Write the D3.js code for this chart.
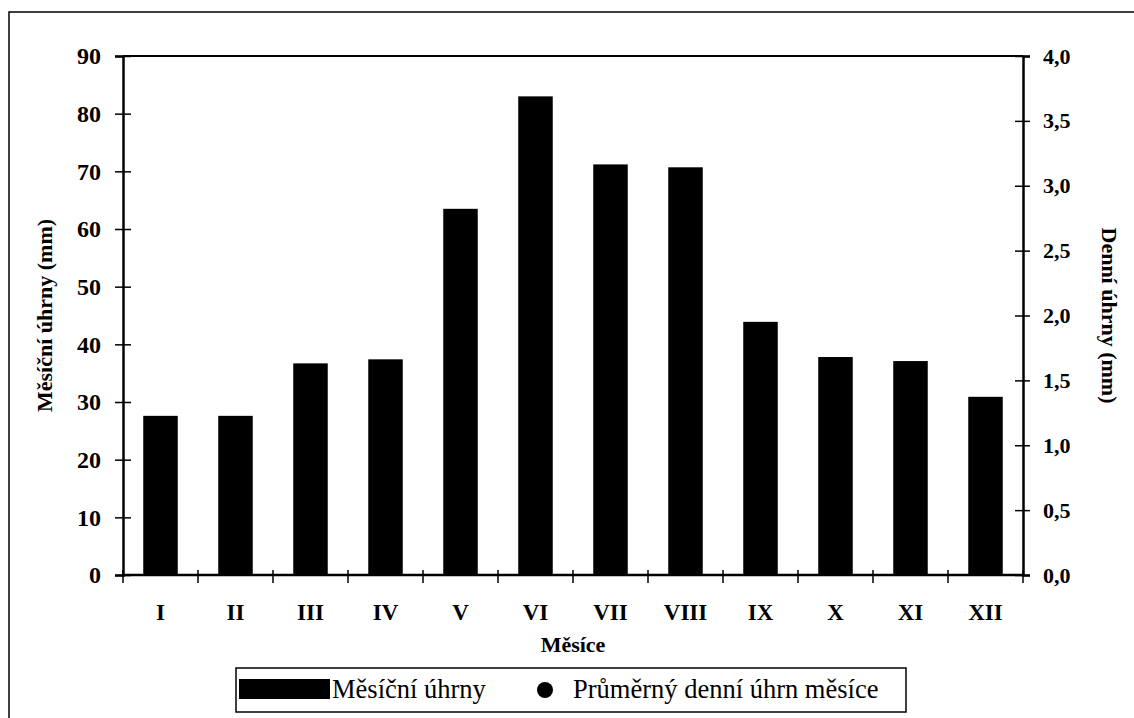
<!DOCTYPE html>
<html>
<head>
<meta charset="utf-8">
<script src="https://cdn.jsdelivr.net/npm/d3@7"></script>
<style>
  body { margin: 0; background: #fff; }
  text { font-family: "Liberation Serif", "Times New Roman", serif; }
</style>
</head>
<body>
<div id="container"></div>
<script>
/* DATA */
const months = ["I", "II", "III", "IV", "V", "VI", "VII", "VIII", "IX", "X", "XI", "XII"];
const monthlyTotals = [27.6, 27.6, 36.7, 37.4, 63.5, 83.0, 71.2, 70.7, 43.9, 37.8, 37.1, 30.9];
const leftTicks = [0, 10, 20, 30, 40, 50, 60, 70, 80, 90];
const rightTicks = [0, 0.5, 1, 1.5, 2, 2.5, 3, 3.5, 4];
const seriesNames = ["Měsíční úhrny", "Průměrný denní úhrn měsíce"];

/* CONSTANTS */
const width = 1134, height = 718;
const margin = {left: 123, right: 111, top: 56, bottom: 143};

const svg = d3.select("#container").append("svg")
  .attr("width", width).attr("height", height);

// outer frame (cut off at right and bottom like the scan)
svg.append("rect")
  .attr("x", 9).attr("y", 12).attr("width", 1200).attr("height", 800)
  .attr("fill", "none").attr("stroke", "#000").attr("stroke-width", 1.5);

/* SCALES */
const xScale = d3.scaleBand()
  .domain(months)
  .range([margin.left, width - margin.right])
  .paddingInner(0.54).paddingOuter(0.27);

const yScale = d3.scaleLinear()
  .domain([0, 90])
  .range([height - margin.bottom, margin.top]);

const y2Scale = d3.scaleLinear()
  .domain([0, 4])
  .range([height - margin.bottom, margin.top]);

const x0 = margin.left, x1 = width - margin.right;
const yb = height - margin.bottom;

// top border of plot
svg.append("line")
  .attr("x1", x0).attr("x2", x1).attr("y1", margin.top).attr("y2", margin.top)
  .attr("stroke", "#000").attr("stroke-width", 2);

// bars
svg.selectAll("rect.bar")
  .data(monthlyTotals)
  .join("rect")
  .attr("class", "bar")
  .attr("x", (d, i) => xScale(months[i]))
  .attr("width", xScale.bandwidth())
  .attr("y", d => yScale(d))
  .attr("height", d => yb - yScale(d))
  .attr("fill", "#000");

/* AXES */
const leftAxis = d3.axisLeft(yScale).tickValues(leftTicks).tickSize(8).tickPadding(14);
const gl = svg.append("g").attr("transform", `translate(${x0},0)`).call(leftAxis);
gl.select(".domain").attr("stroke-width", 2.5);
gl.selectAll(".tick line").attr("x2", -8).attr("x1", 8).attr("stroke-width", 1.5);
gl.selectAll(".tick text")
  .style("font-family", "Liberation Serif, serif")
  .style("font-weight", "bold").style("font-size", "24px");

const rightAxis = d3.axisRight(y2Scale).tickValues(rightTicks)
  .tickFormat(d => d3.format(".1f")(d).replace(".", ","))
  .tickSize(7).tickPadding(13);
const gr = svg.append("g").attr("transform", `translate(${x1},0)`).call(rightAxis);
gr.select(".domain").attr("stroke-width", 2.5);
gr.selectAll(".tick line").attr("x1", -8).attr("x2", 7).attr("stroke-width", 1.5);
gr.selectAll(".tick text")
  .style("font-family", "Liberation Serif, serif")
  .style("font-weight", "bold").style("font-size", "22px");

// bottom axis: ticks between categories
const gb = svg.append("g").attr("transform", `translate(0,${yb})`);
gb.append("line").attr("x1", x0).attr("x2", x1).attr("stroke", "#000").attr("stroke-width", 2.5);
const boundaries = d3.range(months.length + 1).map(i => x0 + i * (x1 - x0) / months.length);
gb.selectAll("line.tk").data(boundaries).join("line")
  .attr("class", "tk")
  .attr("x1", d => d).attr("x2", d => d).attr("y1", -5).attr("y2", 8)
  .attr("stroke", "#000").attr("stroke-width", 1.5);
gb.selectAll("text.mt").data(months).join("text")
  .attr("class", "mt")
  .attr("x", d => xScale(d) + xScale.bandwidth() / 2)
  .attr("y", 45)
  .attr("text-anchor", "middle")
  .style("font-weight", "bold").style("font-size", "23px")
  .text(d => d);

/* TITLES */
svg.append("text")
  .attr("transform", `translate(52,${(margin.top + yb) / 2}) rotate(-90)`)
  .attr("text-anchor", "middle")
  .style("font-weight", "bold").style("font-size", "22px")
  .text("Měsíční úhrny (mm)");

svg.append("text")
  .attr("transform", `translate(1102,${(margin.top + yb) / 2}) rotate(90)`)
  .attr("text-anchor", "middle")
  .style("font-weight", "bold").style("font-size", "22px")
  .text("Denní úhrny (mm)");

svg.append("text")
  .attr("x", (x0 + x1) / 2).attr("y", 652)
  .attr("text-anchor", "middle")
  .style("font-weight", "bold").style("font-size", "22px")
  .text("Měsíce");

/* LEGEND */
const lg = svg.append("g");
lg.append("rect").attr("x", 236).attr("y", 668).attr("width", 670).attr("height", 44)
  .attr("fill", "#fff").attr("stroke", "#000").attr("stroke-width", 1.5);
lg.append("rect").attr("x", 239).attr("y", 679).attr("width", 91).attr("height", 20).attr("fill", "#000");
lg.append("text").attr("x", 332).attr("y", 698).style("font-size", "26.5px").text(seriesNames[0]);
lg.append("circle").attr("cx", 545).attr("cy", 690).attr("r", 8).attr("fill", "#000");
lg.append("text").attr("x", 573).attr("y", 698).style("font-size", "26.5px").text(seriesNames[1]);
</script>
</body>
</html>
